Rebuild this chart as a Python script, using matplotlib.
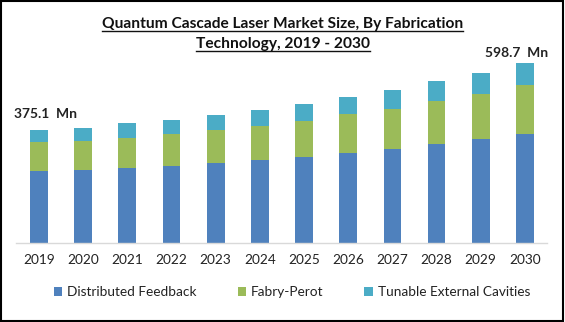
import matplotlib
matplotlib.use("Agg")
import matplotlib.pyplot as plt
from matplotlib.patches import Rectangle, Patch
from matplotlib.lines import Line2D
import numpy as np


years = ["2019", "2020", "2021", "2022", "2023", "2024",
         "2025", "2026", "2027", "2028", "2029", "2030"]
distributed_feedback = [239, 243, 250, 256, 266, 276, 286, 300, 313, 330, 346, 363]
fabry_perot = [95, 97, 100, 107, 110, 113, 120, 127, 133, 140, 150, 163]
tunable_external = [41.1, 43, 47, 47, 50, 53, 57, 57, 63, 67, 70, 72.7]
series_names = ["Distributed Feedback", "Fabry-Perot", "Tunable External Cavities"]
colors = ["#4f81bd", "#9bbb59", "#4bacc6"]

W, H = 565, 322
plt.rcParams["font.family"] = ["Lato", "DejaVu Sans"]

fig = plt.figure(figsize=(W / 100, H / 100), dpi=100)
ax = fig.add_axes([16 / W, 79 / H, 531 / W, 203 / H])

x = np.arange(len(years))
bottom = np.zeros(len(years))
for vals, name, c in zip([distributed_feedback, fabry_perot, tunable_external], series_names, colors):
    ax.bar(x, vals, width=0.4, bottom=bottom, color=c, label=name)
    bottom += np.array(vals)

ax.set_xlim(-0.52, 11.5)
ax.set_ylim(0, 674)
ax.set_xticks(x)
ax.set_xticklabels(years, fontsize=9.8, color="#222222")
ax.tick_params(axis="x", length=0, pad=8)
ax.set_yticks([])
for s in ["top", "right", "left"]:
    ax.spines[s].set_visible(False)
ax.spines["bottom"].set_color("#d9d9d9")
ax.spines["bottom"].set_linewidth(1)

# value labels on first and last bars
totals = bottom
ax.annotate("375.1  Mn", xy=(0, totals[0]), xytext=(5, 7), textcoords="offset points",
            ha="center", va="bottom", fontsize=10, fontweight="bold", color="#222222")
ax.annotate("598.7  Mn", xy=(11, totals[-1]), xytext=(-6, 3), textcoords="offset points",
            ha="center", va="bottom", fontsize=10, fontweight="bold", color="#222222")

# title with underline
title_lines = ["Quantum Cascade Laser Market Size, By Fabrication",
               "Technology, 2019 - 2030"]
baselines = [28, 48]
title_texts = []
for line, yb in zip(title_lines, baselines):
    t = fig.text(282.5 / W, 1 - yb / H, line, ha="center", va="baseline",
                 fontsize=11.2, fontweight="bold", color="#111111")
    title_texts.append((t, yb))

fig.canvas.draw()
renderer = fig.canvas.get_renderer()
for t, yb in title_texts:
    bb = t.get_window_extent(renderer)
    yy = 1 - (yb + 2.7) / H
    fig.add_artist(Line2D([bb.x0 / W, bb.x1 / W], [yy, yy], color="#111111",
                          linewidth=1.0, transform=fig.transFigure))

handles = [Patch(facecolor=c, edgecolor="none") for c in colors]
fig.legend(handles, series_names, loc="center", bbox_to_anchor=(292 / W, 1 - 292 / H),
           ncol=3, frameon=False, fontsize=9.8, handlelength=0.6, handleheight=0.6,
           handletextpad=0.4, columnspacing=3.0, labelcolor="#222222")

fig.add_artist(Rectangle((0.001, 0.003), 0.995, 0.995, fill=False, edgecolor="black",
                         linewidth=1.5, transform=fig.transFigure))

fig.savefig("out.png", dpi=100)
